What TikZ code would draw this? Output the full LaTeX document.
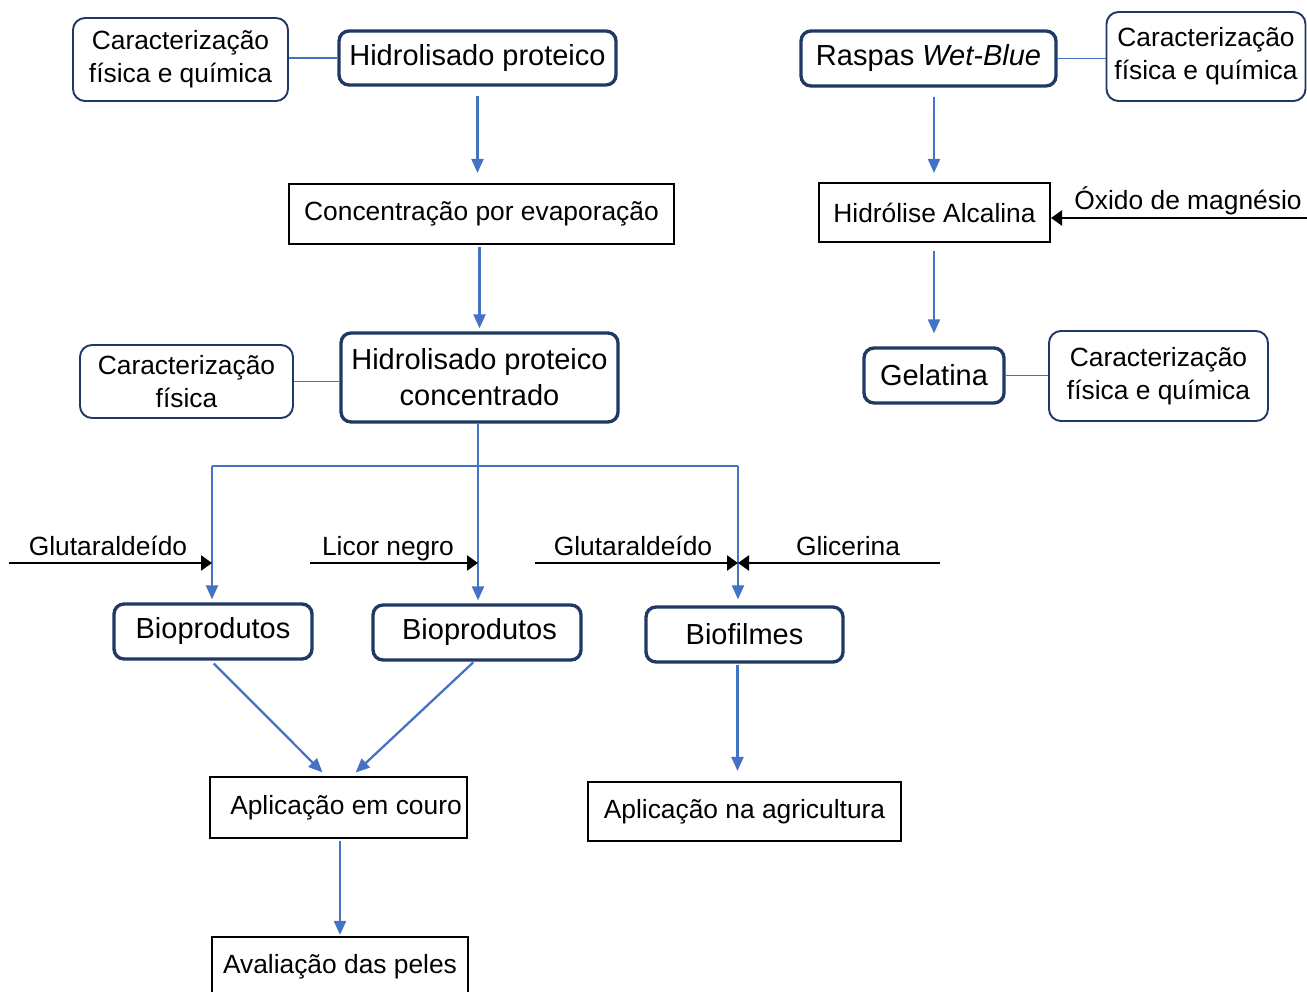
\documentclass[tikz,border=0pt]{standalone}
\usepackage{fontspec}
\setmainfont{Liberation Sans}
\usepackage{xcolor}
\usetikzlibrary{positioning,arrows.meta,calc}

\definecolor{boxblue}{RGB}{32,56,100}
\definecolor{lineblue}{RGB}{68,114,196}

\tikzset{
	bigbox/.style={draw=boxblue,line width=1.9pt,rounded corners=0.2cm,align=center,inner sep=0pt,font=\fontsize{16.5}{20.4}\selectfont},
	charbox/.style={draw=boxblue,line width=1.1pt,rounded corners=0.24cm,align=center,inner sep=0pt,font=\fontsize{15}{18.7}\selectfont},
	stepbox/.style={draw=black,line width=1.2pt,align=center,inner sep=0pt,font=\fontsize{15}{18}\selectfont},
	flow/.style={-{Triangle[length=0.28cm,width=0.24cm]},draw=lineblue,fill=lineblue,line width=1.3pt},
	link/.style={draw=lineblue,line width=0.7pt},
	feed/.style={-{Triangle[length=0.22cm,width=0.3cm]},draw=black,line width=1.4pt},
	lbl/.style={inner sep=0pt,anchor=base,font=\fontsize{15}{18}\selectfont}
}

\begin{document}
\begin{tikzpicture}
		
		\useasboundingbox (0,0) rectangle (26.14,-19.84);
		
		% left column
		\node[bigbox,minimum width=5.54cm,minimum height=1.08cm] (hp)
		at (9.55,-1.16) {Hidrolisado proteico};
		
		\node[charbox,minimum width=4.30cm,minimum height=1.66cm] (car1)
		at (3.61,-1.19) {Caracterização\\física e química};
		
		\node[stepbox,minimum width=7.70cm,minimum height=1.20cm] (conc)
		at (9.63,-4.28) {Concentração por evaporação};
		
		\node[bigbox,minimum width=5.54cm,minimum height=1.78cm] (hpc)
		at (9.59,-7.55) {Hidrolisado proteico\\concentrado};
		
		\node[charbox,minimum width=4.26cm,minimum height=1.46cm] (carf)
		at (3.73,-7.63) {Caracterização\\física};
		
		% right column
		\node[bigbox,minimum width=5.10cm,minimum height=1.10cm] (rwb)
		at (18.57,-1.17) {Raspas \textit{Wet-Blue}};
		
		\node[charbox,minimum width=3.98cm,minimum height=1.78cm] (car2)
		at (24.12,-1.13) {Caracterização\\física e química};
		
		\node[stepbox,minimum width=4.62cm,minimum height=1.18cm] (ha)
		at (18.69,-4.25) {Hidrólise Alcalina};
		
		\node[bigbox,minimum width=2.80cm,minimum height=1.10cm] (gel)
		at (18.68,-7.51) {Gelatina};
		
		\node[charbox,minimum width=4.38cm,minimum height=1.80cm] (car3)
		at (23.17,-7.52) {Caracterização\\física e química};
		
		% products
		\node[bigbox,minimum width=3.96cm,minimum height=1.10cm] (bio1)
		at (4.26,-12.63) {Bioprodutos};
		
		\node[bigbox,minimum width=4.16cm,minimum height=1.10cm] (bio2)
		at (9.54,-12.65) {\hspace{0.1cm}Bioprodutos};
		
		\node[bigbox,minimum width=3.94cm,minimum height=1.10cm] (bif)
		at (14.89,-12.69) {Biofilmes};
		
		\node[stepbox,minimum width=5.14cm,minimum height=1.22cm] (apc)
		at (6.77,-16.15) {\hspace{0.3cm}Aplicação em couro};
		
		\node[stepbox,minimum width=6.26cm,minimum height=1.18cm] (apa)
		at (14.89,-16.23) {Aplicação na agricultura};
		
		\node[stepbox,minimum width=5.12cm,minimum height=1.20cm] (ava)
		at (6.80,-19.34) {Avaliação das peles};
		
		% side links
		\draw[link] (hp.west) -- (hp.west -| car1.east);
		\draw[link] (carf.east) -- (carf.east -| hpc.west);
		\draw[link] (rwb.east) -- (rwb.east -| car2.west);
		\draw[link] (gel.east) -- (gel.east -| car3.west);
		
		% main flow
		\draw[flow,shorten <=0.18cm,shorten >=0.2cm]
		(hp.south) -- (hp.south |- conc.north);
		\draw[flow,shorten <=0.04cm,shorten >=0.06cm]
		(hpc.north |- conc.south) -- (hpc.north);
		\draw[flow,shorten <=0.18cm,shorten >=0.18cm]
		(gel.north |- rwb.south) -- (gel.north |- ha.north);
		\draw[flow,shorten <=0.16cm,shorten >=0.26cm]
		(gel.north |- ha.south) -- (gel.north);
		
		% split
		\coordinate (split) at ($(hpc.south)+(-0.03,-0.88)$);
		\coordinate (j1) at (4.24,-9.32);
		\coordinate (j3) at (14.76,-9.32);
		\draw[link,line width=1.1pt] (hpc.south -| split) -- (split);
		\draw[link,line width=1.1pt] (j1) -- (j3);
		\draw[flow,shorten >=0.06cm] (j1) -- (j1 |- bio1.north);
		\draw[flow,shorten >=0.06cm] (split) -- (split |- bio2.north);
		\draw[flow,shorten >=0.12cm] (j3) -- (j3 |- bif.north);
		
		\draw[flow,shorten <=0.08cm,shorten >=0.1cm]
		([xshift=-0.04cm]bio1.south) -- ([xshift=-0.25cm]apc.north);
		\draw[flow,shorten <=0.02cm,shorten >=0.1cm]
		([xshift=-0.06cm]bio2.south) -- ([xshift=0.27cm]apc.north);
		\draw[flow,shorten <=0.02cm,shorten >=0.2cm]
		([xshift=-0.14cm]bif.south) -- ([xshift=-0.14cm]apa.north);
		\draw[flow,shorten <=0.04cm,shorten >=0.02cm]
		(ava.north |- apc.south) -- (ava.north);
		
		% additives
		\coordinate (in1) at (0.18,-11.26);
		\coordinate (in2) at (6.20,-11.26);
		\coordinate (in3) at (10.70,-11.26);
		\coordinate (in4) at (18.80,-11.26);
		\coordinate (in5) at (26.14,-4.36);
		
		\node[lbl] (g1) at (2.16,-11.12) {Glutaraldeído};
		\node[lbl] (ln) at (7.76,-11.12) {Licor negro};
		\node[lbl] (g2) at (12.66,-11.12) {Glutaraldeído};
		\node[lbl] (gl) at (16.96,-11.12) {Glicerina};
		\node[lbl] (om) at (23.76,-4.20) {Óxido de magnésio};
		
		\draw[feed] (in1) -- (in1 -| j1);
		\draw[feed] (in2) -- (in2 -| split);
		\draw[feed] (in3) -- (in3 -| j3);
		\draw[feed] (in4) -- (in4 -| j3);
		\draw[feed] (in5) -- (in5 -| ha.east);
		
	\end{tikzpicture}
\end{document}
